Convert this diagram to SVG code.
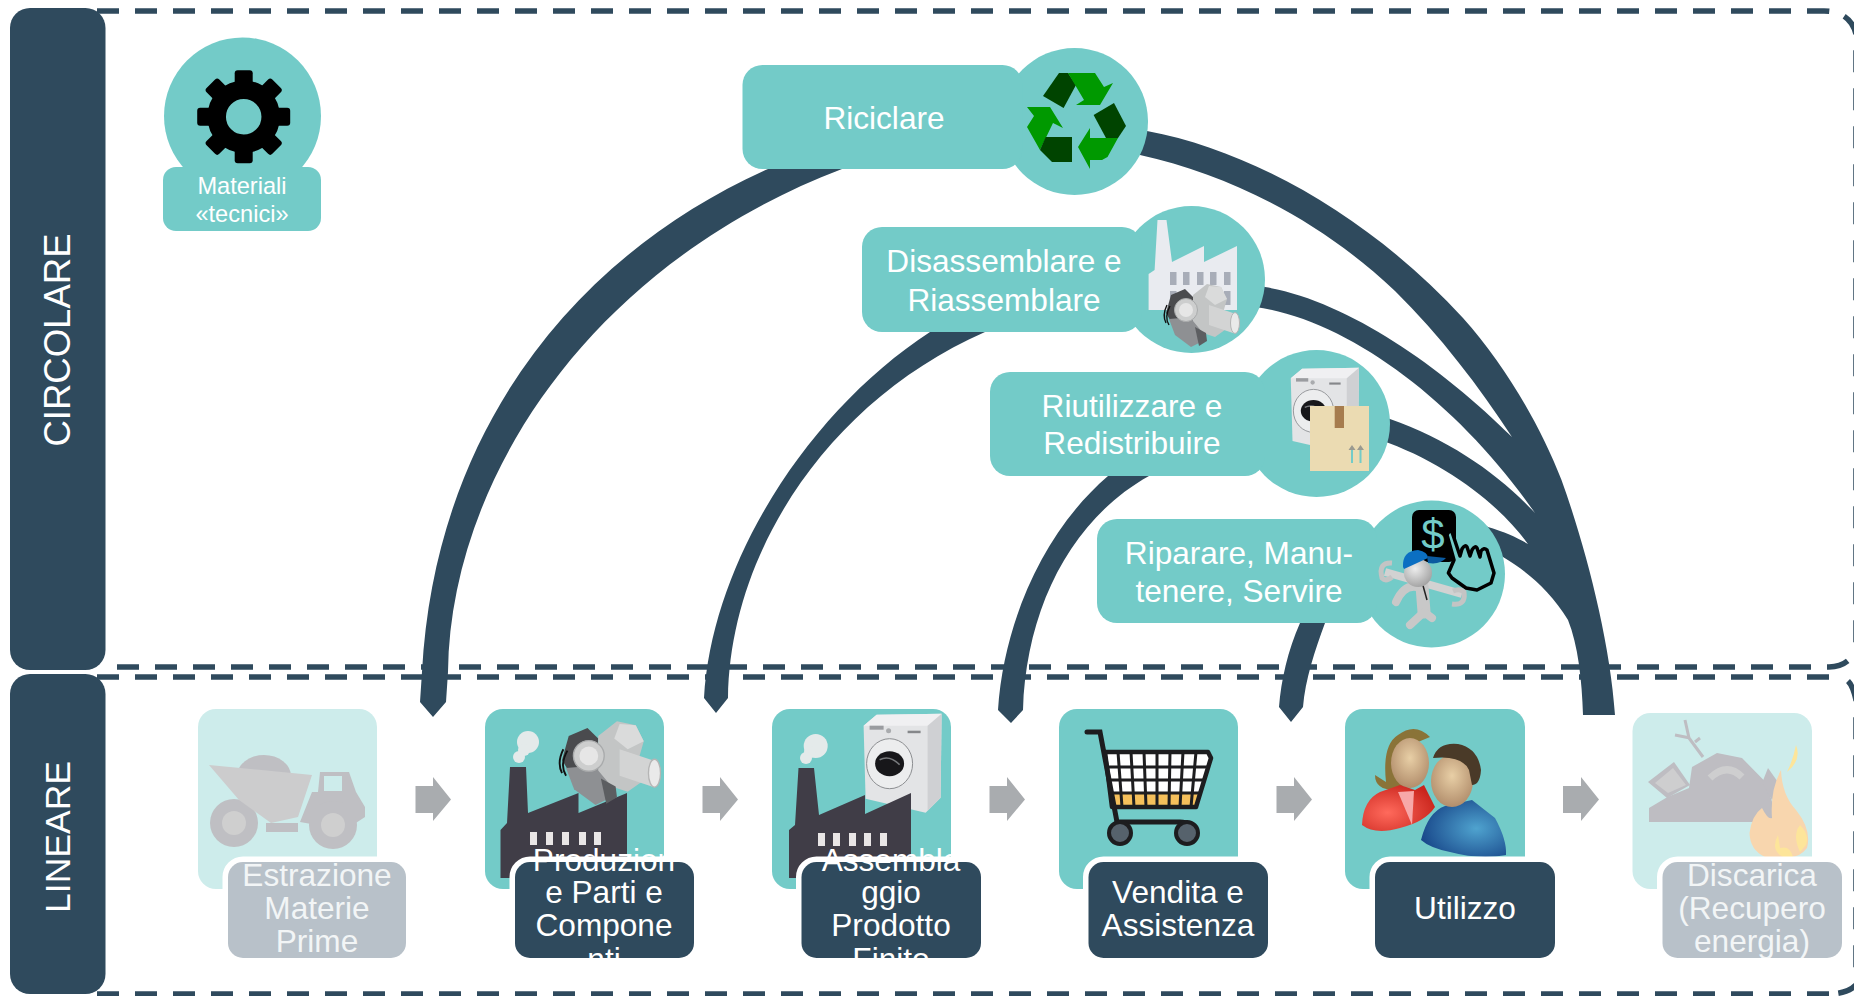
<svg xmlns="http://www.w3.org/2000/svg" xmlns:xlink="http://www.w3.org/1999/xlink" width="1854" height="996" viewBox="0 0 1854 996">
<style>
text{font-family:"Liberation Sans",Arial,sans-serif;fill:#fff;text-anchor:middle}
.t{font-size:31.6px}
.s{font-size:23.6px}
.b{font-size:35.5px}
.teal{fill:#73CBC8}
.dark{fill:#2F4A5D}
.faded{fill:#CDECEB}
.grey{fill:#B8C1C9}
.dash{fill:none;stroke:#2F4A5D;stroke-width:5.5;stroke-dasharray:22 16}
.arrow{fill:#A9ACAF}
.halo{stroke:#fff;stroke-width:11;paint-order:stroke}
.lt{fill:#F2F5F6}
</style>
<defs>
<clipPath id="lblclip"><rect x="0" y="0" width="1854" height="958"/></clipPath>
<radialGradient id="skin" cx="50%" cy="40%" r="60%"><stop offset="0" stop-color="#E8CFA6"/><stop offset="1" stop-color="#B28E6C"/></radialGradient>
<radialGradient id="red" cx="35%" cy="60%" r="70%"><stop offset="0" stop-color="#FF6A5C"/><stop offset="1" stop-color="#C9241C"/></radialGradient>
<radialGradient id="blue" cx="65%" cy="50%" r="65%"><stop offset="0" stop-color="#4FA3CF"/><stop offset="1" stop-color="#1A4A8C"/></radialGradient>
<radialGradient id="head" cx="40%" cy="35%" r="70%"><stop offset="0" stop-color="#EDEDED"/><stop offset="1" stop-color="#A0A0A0"/></radialGradient>
<g id="pump">
<polygon points="8,12 22,6 30,14 30,40 10,42 3,30" fill="#4A4B4E"/>
<polygon points="6,36 30,34 44,48 36,60 28,64 12,52" fill="#8E9093"/>
<polygon points="30,12 44,1 58,4 64,16 60,30 66,44 52,54 40,50 30,38" fill="#C3C5C5"/>
<polygon points="46,3 58,4 64,16 52,22 42,14" fill="#DADBDB"/>
<polygon points="46,22 70,30 77,38 70,50 46,42" fill="#D3D4D4"/>
<ellipse cx="72" cy="40" rx="4.500" ry="10.500" fill="#EAEAEA" stroke="#B5B5B5"/>
<circle cx="23" cy="27" r="11.500" fill="#CDCECE" stroke="#A9ABAC" stroke-width="1"/>
<circle cx="23" cy="27" r="7" fill="#E6E6E6"/>
<path d="M4 22Q-1 32 3 40M7 23Q1 34 6 42" fill="none" stroke="#111" stroke-width="1.400"/>
<polygon points="32,44 43,50 44,58 36,63" fill="#5C5E61"/>
</g>
<g id="washer">
<polygon points="2,13 15,2 80,1 79,85 64,100 4,86" fill="#E3E4E6"/>
<polygon points="2,13 15,2 80,1 70,13" fill="#F0F0F2"/>
<polygon points="66,13 80,1 79,85 66,98" fill="#CFD0D3"/>
<rect x="8" y="13" width="14" height="4" fill="#9A9CA0"/>
<rect x="46" y="18" width="13" height="2.500" fill="#85878A"/>
<circle cx="27" cy="18" r="2.500" fill="#A9ABAE"/>
<ellipse cx="28" cy="51" rx="23" ry="25" fill="#ECEDEE" stroke="#8C8E91" stroke-width="1"/>
<ellipse cx="28" cy="51" rx="14.500" ry="12.500" fill="#17171A"/>
<path d="M18 47Q28 42 38 52" stroke="#77797C" stroke-width="1.600" fill="none"/>
</g>
<g id="tooth"><rect x="-9" y="-46.500" width="18" height="20" rx="3" fill="#000"/></g>
</defs>
<rect width="1854" height="996" fill="#fff"/>
<g id="frames">
<path class="dash" d="M59 11H1824Q1850 11 1856 34V655"/>
<path class="dash" d="M117 667H1829Q1845 667 1853 655"/>
<path class="dash" d="M97 677H1833M1848 681Q1853 686 1856 700V985Q1848 993 1832 994M97 994H1832"/>
</g>
<g id="connectors">
<path id="arc-riciclare" class="dark" d="M422 672C435 430 575 255 768 169L800 150L842 169C590 265 450 480 448 672L446 702L433 717L420 702Z"/>
<path id="arc-disassemblare" class="dark" d="M704 698C712 560 810 410 930 332L960 320L985 332C830 400 730 550 728 698L716 713Z"/>
<path id="arc-riutilizzare" class="dark" d="M998 710C1004 620 1045 530 1108 476L1130 460L1149 476C1070 520 1026 610 1023 710L1011 723Z"/>
<path id="arc-riparare" class="dark" d="M1279 707C1281 680 1288 650 1300 623L1312 610L1325 623C1315 650 1305 680 1303 707L1291 722Z"/>
<path id="arc-right" class="dark" d="M1140 130L1147 131C1260 152 1378 225 1463 318C1505 365 1540 425 1561.500 480C1585 545 1610 640 1615 715H1583C1582 680 1578 645 1568 620C1550 590 1525 570 1503 557L1480 545L1480 522L1488 527C1505 532 1518 538 1528 544C1500 505 1445 462 1380 440V415L1390 419C1450 440 1500 475 1535 513C1460 405 1350 320 1255 307V283L1265 287C1345 300 1440 365 1512 437C1480 388 1440 335 1395 291C1320 220 1230 175 1140 155Z"/>
</g>
<rect id="bar-circolare" class="dark" x="10" y="8" width="95.500" height="662" rx="20"/>
<rect id="bar-lineare" class="dark" x="10" y="674" width="95.500" height="320" rx="20"/>
<g id="lbl-circolare"><text class="b" style="font-size:36.500px" transform="translate(70 340) rotate(-90)">CIRCOLARE</text></g>
<g id="lbl-lineare"><text class="b" transform="translate(70 837) rotate(-90)">LINEARE</text></g>

<g id="node-materiali">
<circle class="teal" cx="242.500" cy="116" r="78.500"/>
<rect class="teal" x="163" y="167" width="158" height="64" rx="13"/>
<g transform="translate(243.700 116.700)">
<circle r="27" fill="none" stroke="#000" stroke-width="18.500"/>
<use xlink:href="#tooth" href="#tooth"/>
<use xlink:href="#tooth" href="#tooth" transform="rotate(45)"/>
<use xlink:href="#tooth" href="#tooth" transform="rotate(90)"/>
<use xlink:href="#tooth" href="#tooth" transform="rotate(135)"/>
<use xlink:href="#tooth" href="#tooth" transform="rotate(180)"/>
<use xlink:href="#tooth" href="#tooth" transform="rotate(225)"/>
<use xlink:href="#tooth" href="#tooth" transform="rotate(270)"/>
<use xlink:href="#tooth" href="#tooth" transform="rotate(315)"/>
</g>
<text class="s" x="242" y="194">Materiali</text>
<text class="s" x="242" y="222">«tecnici»</text>
</g>

<g id="node-riciclare">
<circle class="teal" cx="1074.500" cy="121.500" r="73.500"/>
<rect class="teal" x="742.500" y="65" width="280" height="104" rx="20"/>
<polygon points="1043,96 1059,73 1068,73 1076,85 1063.600,108" fill="#004400"/>
<polygon points="1068,73 1095,73 1104,87 1113,83 1100,105 1076,105 1084,100" fill="#009900"/>
<polygon points="1093.600,115 1114,103 1126,126 1118,138 1106,138" fill="#004400"/>
<polygon points="1118,138 1107.500,157 1102,160 1090,160 1090,169 1078,147 1090,128 1090,138" fill="#009900"/>
<polygon points="1027,107 1050,107 1063,128 1053,123 1040,150 1027,127 1034,116" fill="#009900"/>
<polygon points="1045.700,137 1072,137 1072,162 1052,162 1040,150" fill="#004400"/>
<text class="t" x="884" y="129">Riciclare</text>
</g>

<g id="node-disassemblare">
<circle class="teal" cx="1191.500" cy="279.500" r="73.500"/>
<rect class="teal" x="862" y="227" width="280" height="105" rx="20"/>
<polygon points="1157.500,220 1166.500,220 1172,262 1204,246 1204,262 1237,246 1237,310 1148.600,310 1148.600,274 1154.600,270" fill="#E9EBF0"/>
<g fill="#A8ADB8"><rect x="1170" y="272" width="6.500" height="13"/><rect x="1183" y="272" width="6.500" height="13"/><rect x="1197" y="272" width="6.500" height="13"/><rect x="1210" y="272" width="6.500" height="13"/><rect x="1224" y="272" width="6.500" height="13"/><rect x="1224" y="291" width="6.500" height="14"/><rect x="1170" y="291" width="6.500" height="10"/></g>
<use xlink:href="#pump" href="#pump" transform="translate(1163 283)"/>
<text class="t" x="1004" y="272">Disassemblare e</text>
<text class="t" x="1004" y="311">Riassemblare</text>
</g>

<g id="node-riutilizzare">
<circle class="teal" cx="1316.500" cy="423.500" r="73.500"/>
<rect class="teal" x="990" y="372" width="275" height="104" rx="20"/>
<use xlink:href="#washer" href="#washer" transform="translate(1289 367) scale(.875 .86)"/>
<rect x="1310" y="406" width="59" height="65" fill="#EBDBB2"/>
<rect x="1334.700" y="406" width="9.300" height="22" fill="#A67C4E"/>
<path d="M1352 463V448M1360.500 463V448" stroke="#73CBC8" stroke-width="2"/>
<path d="M1348.500 450L1352 445L1355.500 450ZM1357 450L1360.500 445L1364 450Z" fill="#9A9A90"/>
<text class="t" x="1132" y="417">Riutilizzare e</text>
<text class="t" x="1132" y="454">Redistribuire</text>
</g>

<g id="node-riparare">
<circle class="teal" cx="1431.500" cy="574" r="73.500"/>
<rect class="teal" x="1097" y="519" width="280" height="104" rx="20"/>
<rect x="1412" y="510" width="44" height="52" rx="7" fill="#000"/>
<text x="1433" y="549" style="font-size:42px;fill:#73CBC8">$</text>
<path d="M1454 560L1447 535Q1449 530 1452 532L1460 556L1462 549Q1465 544 1467 547L1470 556L1472 550Q1475 545 1477 548L1480 557L1481 551Q1484 547 1487 550L1494 573L1491 583L1477 590L1466 588L1452 578L1448.400 573Z" fill="#73CBC8" stroke="#000" stroke-width="3.500" stroke-linejoin="round"/>
<path d="M1385 572L1462 594" stroke="#D2D2D2" stroke-width="8"/>
<path d="M1392 563Q1378 562 1382 578Q1386 582 1392 577" fill="none" stroke="#C4C4C4" stroke-width="5"/>
<path d="M1452 604Q1466 606 1464 592Q1460 588 1453 591" fill="none" stroke="#C4C4C4" stroke-width="5"/>
<path d="M1420 588Q1405 582 1396 602" fill="none" stroke="#C8C8C8" stroke-width="8" stroke-linecap="round"/>
<path d="M1422 586L1424 612" stroke="#C8C8C8" stroke-width="13" stroke-linecap="round"/>
<path d="M1424 612L1410 625M1424 612L1432 618" stroke="#C8C8C8" stroke-width="8" stroke-linecap="round"/>
<path d="M1422 582L1427 600" stroke="#222" stroke-width="1.500"/>
<circle cx="1418" cy="573" r="14" fill="url(#head)"/>
<path d="M1403 567Q1402 551 1418 550Q1428 552 1428 558L1404 569Z" fill="#0B6FC2"/>
<path d="M1427 556L1446 558Q1440 565 1428 563Z" fill="#0A5AA0"/>
<text class="t" x="1239" y="564">Riparare, Manu-</text>
<text class="t" x="1239" y="602">tenere, Servire</text>
</g>

<g id="node-estrazione">
<rect class="faded" x="198" y="709" width="179" height="180" rx="18"/>
<g fill="#BFBFC3">
<ellipse cx="264" cy="776" rx="27" ry="21"/>
<polygon points="312,792 356,792 365,807 365,817 345,830 300,822"/>
<rect x="266" y="823" width="32" height="9"/>
<circle cx="234" cy="823" r="24"/><circle cx="333" cy="825" r="24"/>
<path d="M320 772H349L356 792H318Z"/>
</g>
<polygon points="209,765 312,775 298,817 271,823 239,800" fill="#CCCCCD"/>
<rect x="324" y="776" width="18" height="15" fill="#CDECEB"/>
<circle cx="234" cy="823" r="12" fill="#CFCFCF"/><circle cx="333" cy="825" r="12" fill="#CFCFCF"/>
<rect class="grey halo" x="228" y="862" width="178" height="96" rx="15"/>
<g clip-path="url(#lblclip)"><text class="t lt" x="317" y="886">Estrazione</text><text class="t lt" x="317" y="919">Materie</text><text class="t lt" x="317" y="952">Prime</text></g>
</g>

<g id="node-produzione">
<rect class="teal" x="485" y="709" width="179" height="180" rx="18"/>
<polygon points="510,767 526,767 528,813 578.500,793 578.500,813 627,793 627,878 500.500,878 500.500,830 507,823" fill="#403D47"/>
<g fill="#E9E6E6"><rect x="530" y="832" width="7" height="13"/><rect x="546" y="832" width="7" height="13"/><rect x="562" y="832" width="7" height="13"/><rect x="579" y="832" width="7" height="13"/><rect x="594" y="832" width="7" height="13"/></g>
<g fill="#E4EAEA"><circle cx="528" cy="742" r="11"/><circle cx="524" cy="750" r="6"/><circle cx="519" cy="757" r="6"/></g>
<use xlink:href="#pump" href="#pump" transform="translate(558 720) scale(1.340 1.330)"/>
<rect class="dark halo" x="515" y="862" width="179" height="96" rx="15"/>
<g clip-path="url(#lblclip)"><text class="t" x="604" y="871">Produzion</text><text class="t" x="604" y="903">e Parti e</text><text class="t" x="604" y="936">Compone</text><text class="t" x="604" y="970">nti</text></g>
</g>

<g id="node-assemblaggio">
<rect class="teal" x="772" y="709" width="179" height="180" rx="18"/>
<use xlink:href="#washer" href="#washer" transform="translate(861.600 712.700)"/>
<polygon points="798.500,768 814,768 819,815 865,795 865,814 911,793 911,878 789,878 789,830 795,825" fill="#403D47"/>
<g fill="#E9E6E6"><rect x="818" y="833" width="7" height="13"/><rect x="833" y="833" width="7" height="13"/><rect x="849" y="833" width="7" height="13"/><rect x="864" y="833" width="7" height="13"/><rect x="880" y="833" width="7" height="13"/></g>
<g fill="#E4EAEA"><circle cx="815.700" cy="746" r="12"/><circle cx="810" cy="752" r="6"/><circle cx="806" cy="758" r="6"/></g>
<rect class="dark halo" x="801.500" y="862" width="179.500" height="96" rx="15"/>
<g clip-path="url(#lblclip)"><text class="t" x="891" y="871">Assembla</text><text class="t" x="891" y="903">ggio</text><text class="t" x="891" y="936">Prodotto</text><text class="t" x="891" y="970">Finito</text></g>
</g>

<g id="node-vendita">
<rect class="teal" x="1059" y="709" width="179" height="180" rx="18"/>
<polygon points="1105,752 1208,752 1211,758 1196,807 1112,807" fill="#fff"/>
<polygon points="1110,794 1200,794 1196,807 1112,807" fill="#F5C05B"/>
<g fill="none" stroke="#1D1D1F" stroke-width="3">
<path d="M1107 767H1207M1109 780H1203M1111 793H1199"/>
<path d="M1118 752L1122 807M1131 752L1134 807M1144 752L1146 807M1157 752L1157 807M1170 752L1169 807M1183 752L1180 807M1196 752L1191 807"/>
</g>
<path d="M1087 732H1100L1117 822H1180Q1191 822 1193 831" fill="none" stroke="#1D1D1F" stroke-width="5" stroke-linecap="round"/>
<polygon points="1105,752 1208,752 1211,758 1196,807 1112,807" fill="none" stroke="#1D1D1F" stroke-width="4.500" stroke-linejoin="round"/>
<circle cx="1120" cy="833" r="11" fill="#56626C" stroke="#1D1D1F" stroke-width="4"/>
<circle cx="1187" cy="833" r="11" fill="#56626C" stroke="#1D1D1F" stroke-width="4"/>
<rect class="dark halo" x="1088.500" y="862" width="179.500" height="96" rx="15"/>
<text class="t" x="1178" y="903">Vendita e</text><text class="t" x="1178" y="936">Assistenza</text>
</g>

<g id="node-utilizzo">
<rect class="teal" x="1345" y="709" width="180" height="180" rx="18"/>
<path d="M1386 782Q1382 745 1398 735Q1415 722 1430 737L1418 742L1424 775L1395 790Q1375 790 1375 775Z" fill="#8A7338"/>
<ellipse cx="1410" cy="763" rx="19" ry="25" fill="url(#skin)"/>
<path d="M1362 825Q1363 800 1380 792L1400 785L1415 790L1424 785L1435 807Q1425 822 1400 828Q1375 835 1362 825Z" fill="url(#red)"/>
<polygon points="1398,792 1414,791 1412,825" fill="#F7A8A8"/>
<path d="M1421 840Q1428 812 1445 806L1472 800L1495 818Q1507 840 1506 855Q1480 860 1450 852Q1430 848 1421 840Z" fill="url(#blue)"/>
<ellipse cx="1452" cy="781" rx="21" ry="26" fill="url(#skin)"/>
<path d="M1433 758Q1438 742 1458 744Q1478 748 1481 770Q1480 785 1472 785L1469 770Q1462 755 1433 758Z" fill="#4A3A28"/>
<rect class="dark halo" x="1375" y="862" width="180" height="96" rx="15"/>
<text class="t" x="1465" y="919">Utilizzo</text>
</g>

<g id="node-discarica">
<rect class="faded" x="1632.500" y="713" width="179.500" height="176" rx="18"/>
<g fill="#BEBDC2">
<polygon points="1649,822 1649,808 1667.500,797 1689,788 1692,767 1717,753 1742,758 1766.500,783 1773.500,807 1773.500,822"/>
<polygon points="1648,782 1674,762 1690,785 1667,798"/>
<polygon points="1762,783 1768,768 1780,785 1772,800"/>
</g>
<polygon points="1655,783 1673,768 1686,785 1668,793" fill="#CECECF"/>
<path d="M1710 778Q1727 762 1742 777" fill="none" stroke="#CECECF" stroke-width="7"/>
<path d="M1685 720L1689 738L1703 757M1675 735L1690 738M1695 742L1700 738" fill="none" stroke="#BEBDC2" stroke-width="3"/>
<path d="M1781 770Q1782 795 1796 810Q1812 830 1807 848Q1800 857 1790 857H1765Q1750 850 1749.500 833Q1752 815 1762 808Q1768 820 1772 818Q1770 790 1781 770Z" fill="#F8D6AE"/>
<path d="M1796 745Q1802 760 1787 772Q1793 760 1796 745Z" fill="#FDE59A"/>
<path d="M1783 857Q1770 850 1778 835L1780 848Q1790 845 1793 857ZM1800 852Q1792 835 1800 825Q1810 835 1806 845Z" fill="#FDE59A"/>
<rect class="grey halo" x="1662.500" y="862" width="179.500" height="96" rx="15"/>
<g clip-path="url(#lblclip)"><text class="t lt" x="1752" y="886">Discarica</text><text class="t lt" x="1752" y="919">(Recupero</text><text class="t lt" x="1752" y="952">energia)</text></g>
</g>

<g id="flow-arrows" class="arrow">
<polygon id="a1" points="415.500,786 433,786 433,777 451,799.500 433,821 433,813 415.500,813"/>
<polygon id="a2" points="702.500,786 720,786 720,777 738,799.500 720,821 720,813 702.500,813"/>
<polygon id="a3" points="989.500,786 1007,786 1007,777 1025,799.500 1007,821 1007,813 989.500,813"/>
<polygon id="a4" points="1276.500,786 1294,786 1294,777 1312,799.500 1294,821 1294,813 1276.500,813"/>
<polygon id="a5" points="1563,786 1581,786 1581,777 1599,799.500 1581,821 1581,813 1563,813"/>
</g>
</svg>
